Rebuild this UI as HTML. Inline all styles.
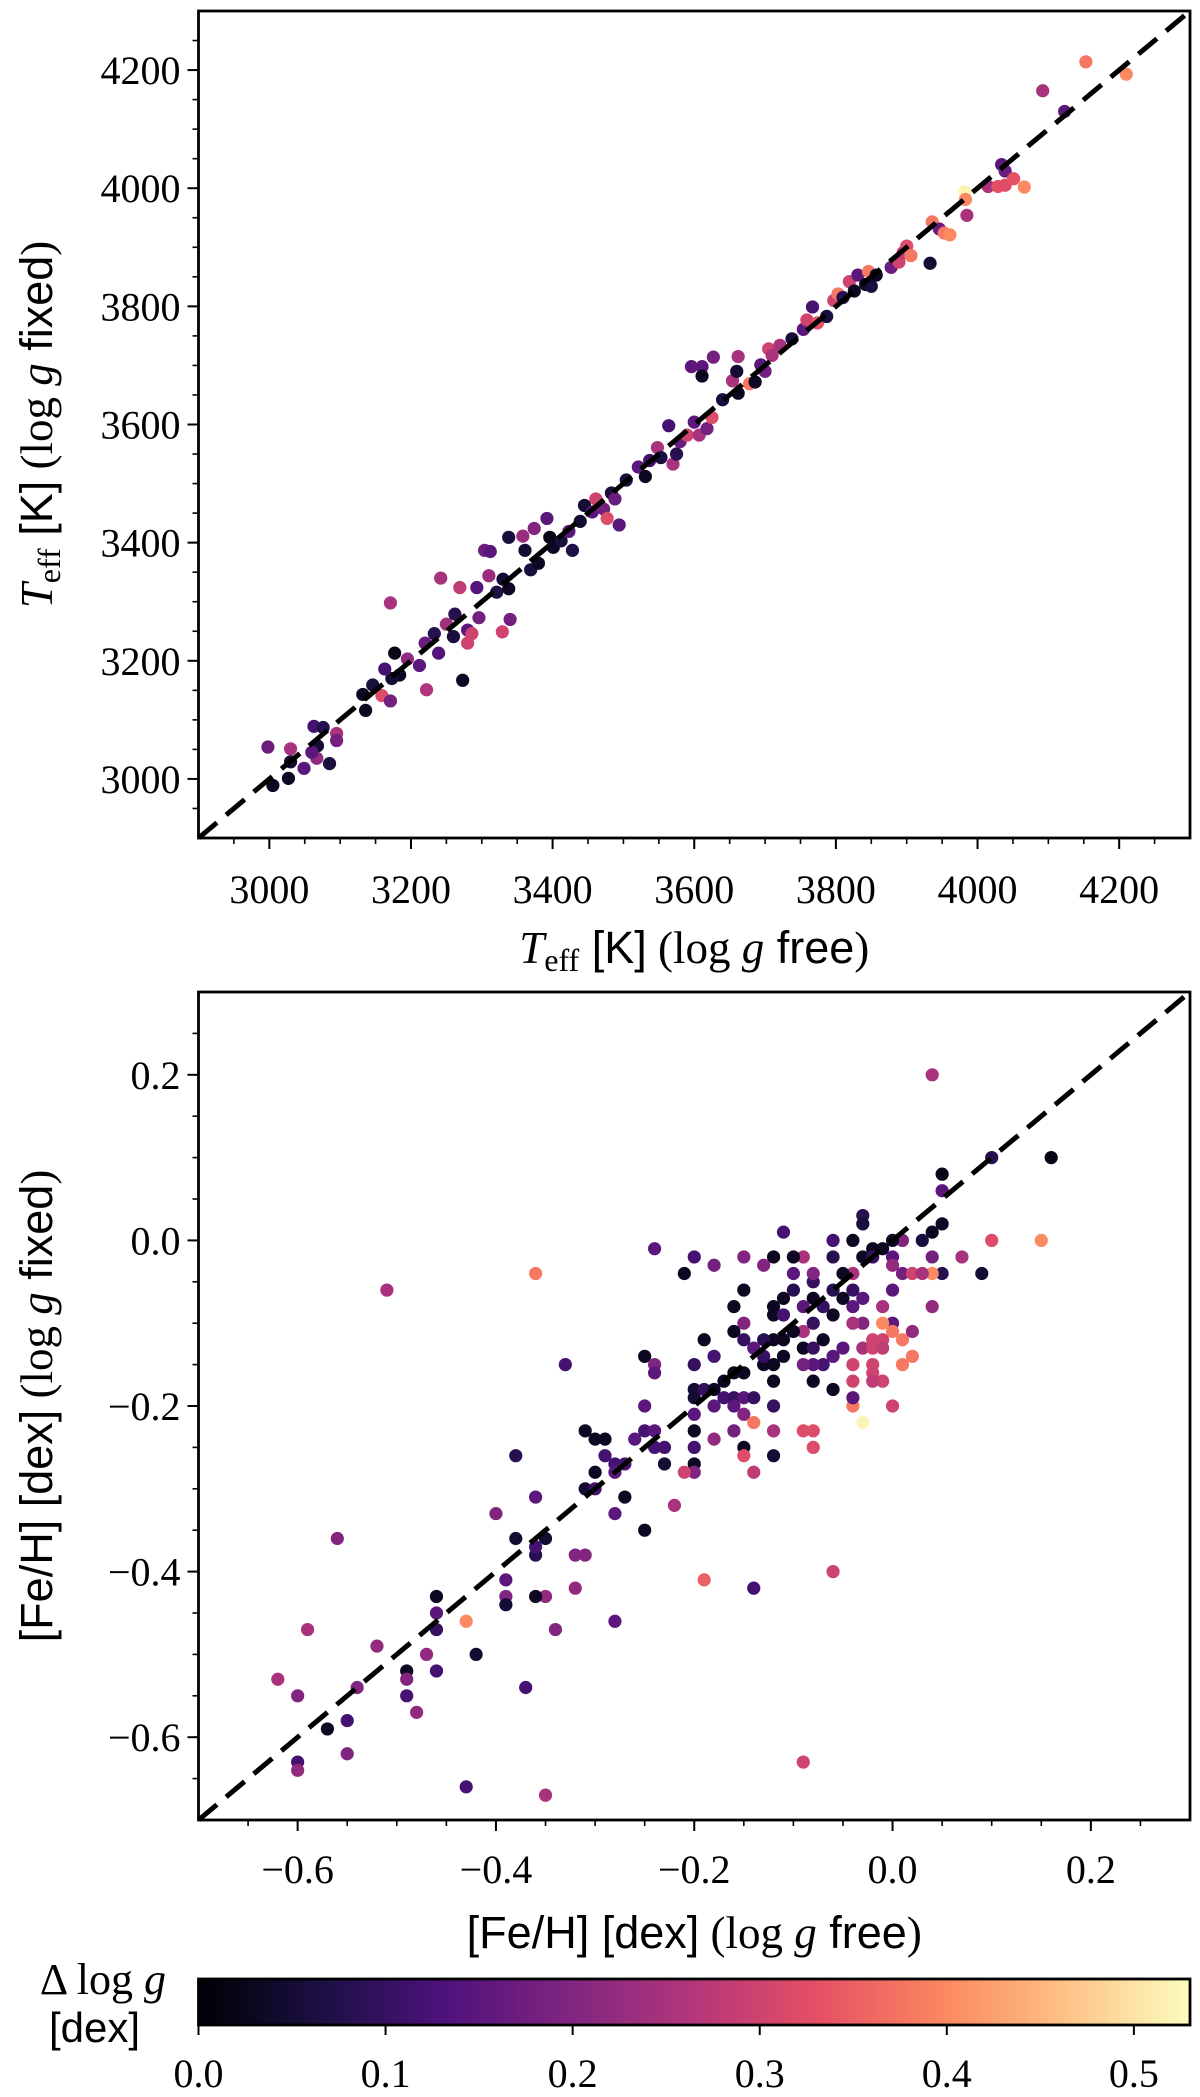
<!DOCTYPE html>
<html><head><meta charset="utf-8"><style>
html,body{margin:0;padding:0;background:#fff;}
svg{display:block;}
text{font-family:"Liberation Serif",serif;fill:#000;}
.sans{font-family:"Liberation Sans",sans-serif;}
</style></head><body>
<svg id="fig" width="1200" height="2097" viewBox="0 0 1200 2097" xmlns="http://www.w3.org/2000/svg">
<defs>
<linearGradient id="magma" x1="0" x2="1" y1="0" y2="0">
<stop offset="0" stop-color="rgb(0,0,4)"/>
<stop offset="0.125" stop-color="rgb(28,16,68)"/>
<stop offset="0.25" stop-color="rgb(79,18,123)"/>
<stop offset="0.375" stop-color="rgb(129,37,129)"/>
<stop offset="0.5" stop-color="rgb(181,54,122)"/>
<stop offset="0.625" stop-color="rgb(229,80,100)"/>
<stop offset="0.75" stop-color="rgb(251,135,97)"/>
<stop offset="0.875" stop-color="rgb(254,194,135)"/>
<stop offset="1" stop-color="rgb(252,253,191)"/>
</linearGradient>
</defs>
<g id="top"></g>
<g id="bot"></g>
<g id="cb"></g>
</svg>
<script>
// ---- Top panel data (Teff) ----
const teffFree = [2998,3030,3027,3005,3030,3049,3063,3076,3068,3067,3085,3095,3095,3060,3136,3132,3146,3159,3171,3171,3177,3184,3173,3163,3195,3212,3222,3220,3233,3242,3239,3250,3260,3269,3273,3262,3280,3286,3280,3296,3293,3304,3312,3310,3321,3329,3330,3338,3340,3338,3358,3361,3369,3380,3374,3392,3396,3401,3412,3423,3428,3439,3445,3456,3461,3472,3477,3483,3494,3488,3504,3521,3531,3537,3548,3553,3564,3570,3575,3580,3590,3600,3607,3618,3625,3596,3611,3611,3627,3640,3654,3662,3662,3660,3678,3686,3694,3700,3705,3710,3721,3738,3754,3759,3767,3774,3787,3797,3803,3810,3819,3826,3831,3842,3846,3850,3857,3878,3889,3895,3900,3906,3933,3936,3946,3953,3961,3982,3983,3985,4015,4029,4034,4039,4039,4051,4066,4092,4123,4153,4210];
const teffFixed = [3054,3051,3001,2989,3029,3018,3089,3087,3056,3035,3026,3077,3065,3045,3116,3143,3159,3141,3132,3298,3213,3176,3170,3186,3203,3192,3151,3230,3246,3340,3213,3262,3241,3324,3167,3279,3252,3246,3230,3273,3324,3387,3385,3344,3316,3249,3338,3409,3270,3322,3411,3387,3354,3365,3424,3441,3409,3392,3403,3419,3387,3436,3463,3452,3474,3457,3441,3484,3430,3474,3506,3528,3512,3539,3561,3544,3598,3533,3550,3571,3582,3604,3582,3593,3612,3698,3698,3682,3714,3642,3674,3653,3715,3690,3669,3672,3701,3690,3728,3717,3734,3745,3761,3777,3799,3772,3783,3810,3821,3815,3842,3826,3853,3837,3859,3834,3853,3866,3875,3891,3902,3886,3873,3943,3931,3924,3921,3994,3981,3954,4003,4003,4040,4029,4005,4016,4002,4165,4130,4214,4193];
const teffDlogg = [0.17,0.25,0.03,0.03,0.05,0.15,0.12,0.08,0.05,0.22,0.06,0.25,0.18,0.15,0.03,0.03,0.06,0.32,0.18,0.25,0.02,0.03,0.05,0.12,0.22,0.15,0.26,0.17,0.08,0.25,0.14,0.24,0.06,0.28,0.03,0.08,0.15,0.3,0.3,0.18,0.14,0.17,0.15,0.23,0.07,0.3,0.05,0.06,0.18,0.03,0.23,0.05,0.06,0.03,0.2,0.15,0.02,0.03,0.06,0.15,0.07,0.05,0.05,0.15,0.3,0.18,0.32,0.06,0.15,0.17,0.06,0.15,0.03,0.12,0.25,0.06,0.12,0.25,0.08,0.17,0.3,0.15,0.25,0.18,0.32,0.15,0.15,0.03,0.18,0.06,0.25,0.03,0.25,0.05,0.38,0.03,0.15,0.18,0.3,0.25,0.25,0.06,0.15,0.3,0.12,0.33,0.06,0.3,0.38,0.08,0.3,0.03,0.15,0.03,0.38,0.06,0.03,0.17,0.3,0.28,0.32,0.38,0.05,0.38,0.17,0.38,0.4,0.52,0.4,0.25,0.25,0.33,0.15,0.17,0.32,0.33,0.4,0.25,0.15,0.38,0.4];
const teffTicks = [3000,3200,3400,3600,3800,4000,4200];
const teffTickLabels = ["3000","3200","3400","3600","3800","4000","4200"];

// ---- Bottom panel data ([Fe/H]) ----
const fehFree = [0.04,0.16,0.10,0.05,0.05,0.05,0.04,0.10,0.15,0.09,0.05,0.04,0.07,0.04,0.03,0.01,0.00,-0.01,-0.02,-0.03,-0.02,0.00,0.00,0.01,0.02,0.03,0.04,0.00,-0.01,0.00,-0.01,0.00,0.01,0.02,0.02,0.01,-0.01,-0.02,-0.02,-0.03,-0.02,-0.01,-0.02,-0.01,-0.02,-0.04,0.00,-0.04,-0.03,-0.04,-0.04,-0.03,-0.03,-0.04,-0.04,-0.05,-0.04,-0.04,-0.05,-0.06,-0.06,-0.04,-0.03,-0.03,-0.06,-0.06,-0.07,-0.08,-0.08,-0.08,-0.09,-0.10,-0.10,-0.10,-0.11,-0.12,-0.09,-0.08,-0.09,-0.10,-0.11,-0.12,-0.13,-0.12,-0.11,-0.09,-0.08,-0.07,-0.07,-0.06,-0.05,-0.08,-0.09,-0.08,-0.06,-0.11,-0.12,-0.13,-0.12,-0.13,-0.14,-0.15,-0.15,-0.16,-0.16,-0.15,-0.13,-0.11,-0.12,-0.15,-0.18,-0.20,-0.21,-0.24,-0.25,-0.24,-0.24,-0.20,-0.20,-0.19,-0.19,-0.18,-0.18,-0.17,-0.16,-0.15,-0.17,-0.18,-0.16,-0.15,-0.14,-0.16,-0.16,-0.15,-0.12,-0.14,-0.12,-0.20,-0.20,-0.20,-0.20,-0.20,-0.20,-0.21,-0.18,-0.15,-0.15,-0.14,-0.12,-0.09,-0.08,-0.08,-0.22,-0.25,-0.25,-0.24,-0.24,-0.23,-0.23,-0.26,-0.27,-0.27,-0.28,-0.28,-0.29,-0.29,-0.30,-0.31,-0.31,-0.30,-0.30,-0.28,-0.25,-0.31,-0.32,-0.32,-0.33,-0.35,-0.35,-0.36,-0.36,-0.36,-0.36,-0.38,-0.38,-0.36,-0.39,-0.39,-0.39,-0.40,-0.34,-0.28,-0.37,-0.42,-0.43,-0.43,-0.35,-0.46,-0.46,-0.46,-0.46,-0.47,-0.48,-0.49,-0.49,-0.49,-0.51,-0.52,-0.54,-0.55,-0.55,-0.56,-0.57,-0.59,-0.60,-0.60,-0.60,-0.62,-0.14,-0.19,-0.06,-0.09];
const fehFixed = [0.20,0.10,0.10,0.08,0.06,0.02,0.01,0.00,0.00,-0.04,-0.04,-0.04,-0.02,-0.02,0.00,0.00,0.00,-0.01,-0.01,-0.02,-0.02,-0.02,-0.03,-0.04,-0.04,-0.04,-0.08,-0.06,-0.08,-0.10,-0.10,-0.11,-0.12,-0.11,-0.14,-0.15,-0.12,-0.12,-0.15,-0.13,-0.13,-0.13,-0.16,-0.17,-0.17,-0.17,-0.20,-0.20,-0.22,-0.19,-0.15,-0.07,-0.10,-0.10,-0.08,-0.07,-0.06,-0.04,-0.04,-0.02,0.00,0.00,0.03,0.02,-0.06,-0.09,-0.08,-0.07,-0.05,-0.04,-0.02,-0.02,-0.04,-0.06,-0.07,-0.08,-0.08,-0.10,-0.11,-0.11,-0.12,-0.12,-0.12,-0.09,-0.09,-0.13,-0.13,-0.12,-0.15,-0.14,-0.13,-0.15,-0.15,-0.17,-0.18,-0.14,-0.15,-0.15,-0.17,-0.14,-0.13,-0.12,-0.10,-0.11,-0.08,-0.06,-0.03,0.01,-0.02,-0.02,-0.03,-0.02,-0.04,-0.01,-0.14,-0.15,-0.16,-0.15,-0.18,-0.18,-0.12,-0.14,-0.18,-0.17,-0.16,-0.16,-0.19,-0.20,-0.19,-0.19,-0.19,-0.20,-0.23,-0.21,-0.20,-0.22,-0.23,-0.19,-0.21,-0.23,-0.25,-0.27,-0.28,-0.28,-0.24,-0.25,-0.26,-0.28,-0.26,-0.23,-0.23,-0.25,-0.32,-0.20,-0.23,-0.23,-0.25,-0.25,-0.27,-0.24,-0.27,-0.31,-0.27,-0.28,-0.26,-0.24,-0.24,-0.23,-0.30,-0.28,-0.30,-0.33,-0.35,-0.38,-0.38,-0.42,-0.15,-0.36,-0.43,-0.43,-0.31,-0.38,-0.37,-0.36,-0.26,-0.04,-0.41,-0.43,-0.44,-0.33,-0.47,-0.46,-0.54,-0.50,-0.46,-0.66,-0.67,-0.43,-0.45,-0.47,-0.52,-0.50,-0.57,-0.52,-0.53,-0.55,-0.06,-0.49,-0.54,-0.58,-0.62,-0.36,-0.59,-0.47,-0.55,-0.63,-0.64,-0.53,-0.42,-0.41,-0.40,-0.63];
const fehDlogg = [0.25,0.02,0.08,0.02,0.15,0.03,0.03,0.32,0.4,0.05,0.08,0.4,0.25,0.18,0.06,0.2,0.03,0.03,0.03,0.03,0.1,0.15,0.22,0.18,0.3,0.25,0.22,0.15,0.25,0.15,0.4,0.38,0.38,0.22,0.38,0.38,0.3,0.3,0.3,0.25,0.3,0.28,0.3,0.3,0.28,0.3,0.3,0.38,0.52,0.15,0.3,0.15,0.2,0.25,0.15,0.03,0.1,0.25,0.03,0.08,0.12,0.03,0.08,0.06,0.08,0.03,0.1,0.03,0.1,0.2,0.25,0.03,0.15,0.08,0.03,0.03,0.15,0.1,0.25,0.03,0.03,0.03,0.08,0.03,0.12,0.03,0.1,0.03,0.12,0.15,0.15,0.15,0.18,0.03,0.03,0.03,0.03,0.03,0.03,0.1,0.15,0.1,0.2,0.03,0.03,0.03,0.2,0.12,0.03,0.2,0.18,0.12,0.03,0.15,0.03,0.2,0.15,0.1,0.05,0.1,0.03,0.12,0.03,0.03,0.03,0.03,0.12,0.15,0.1,0.15,0.1,0.15,0.18,0.2,0.1,0.38,0.25,0.05,0.15,0.03,0.12,0.03,0.2,0.3,0.22,0.03,0.32,0.28,0.05,0.32,0.32,0.32,0.25,0.15,0.12,0.15,0.12,0.12,0.05,0.15,0.12,0.03,0.12,0.15,0.12,0.03,0.03,0.03,0.05,0.03,0.12,0.15,0.03,0.2,0.2,0.22,0.12,0.05,0.22,0.03,0.15,0.08,0.12,0.05,0.08,0.38,0.15,0.2,0.05,0.2,0.2,0.15,0.12,0.05,0.4,0.12,0.25,0.03,0.15,0.1,0.12,0.22,0.22,0.03,0.2,0.12,0.25,0.22,0.2,0.12,0.2,0.2,0.03,0.25,0.2,0.12,0.22,0.25,0.12,0.35,0.3,0.3];
const fehTicks = [-0.6,-0.4,-0.2,0.0,0.2];
const fehTickLabels = ["\u22120.6","\u22120.4","\u22120.2","0.0","0.2"];

// ---- Colorbar ----
const cbTicks = [0.0,0.1,0.2,0.3,0.4,0.5];
const cbTickLabels = ["0.0","0.1","0.2","0.3","0.4","0.5"];
const cbMax = 0.53;

const NS = "http://www.w3.org/2000/svg";
function mk(parent, tag, attrs){ const e=document.createElementNS(NS,tag); for(const k in attrs) e.setAttribute(k,attrs[k]); parent.appendChild(e); return e; }

const magmaStops = [[0,0,4],[28,16,68],[79,18,123],[129,37,129],[181,54,122],[229,80,100],[251,135,97],[254,194,135],[252,253,191]];
function magma(v){
  let t=Math.max(0,Math.min(1,v/cbMax))*(magmaStops.length-1);
  const i=Math.min(Math.floor(t),magmaStops.length-2), f=t-i;
  const a=magmaStops[i], b=magmaStops[i+1];
  return `rgb(${Math.round(a[0]+(b[0]-a[0])*f)},${Math.round(a[1]+(b[1]-a[1])*f)},${Math.round(a[2]+(b[2]-a[2])*f)})`;
}

function panel(g, box, dom, xs, ys, cs, ticks, labels, minorStep, xlabelHTML, ylabelHTML, labelY, xlabY, ylabX, tickFont){
  const sx=v=>box.l+(v-dom[0])/(dom[1]-dom[0])*(box.r-box.l);
  const sy=v=>box.b-(v-dom[0])/(dom[1]-dom[0])*(box.b-box.t);
  const pts=mk(g,'g',{});
  
  
  for(let i=0;i<xs.length;i++){
    const c=mk(pts,'circle',{cx:sx(xs[i]),cy:sy(ys[i]),r:6.6,fill:magma(cs[i])});
    
    
  }
  const ln=mk(g,'line',{x1:sx(dom[0]),y1:sy(dom[0]),x2:sx(dom[1]),y2:sy(dom[1]),stroke:'#000','stroke-width':5,'stroke-dasharray':'24 12'});
  
  
  const fr=mk(g,'rect',{x:box.l,y:box.t,width:box.r-box.l,height:box.b-box.t,fill:'none',stroke:'#000','stroke-width':2.8});
  
  
  const n=Math.round((dom[1]-dom[0])/minorStep);
  for(let k=1;k<n;k++){
    const v=dom[0]+k*minorStep;
    mk(g,'line',{x1:sx(v),x2:sx(v),y1:box.b,y2:box.b+6,stroke:'#000','stroke-width':1.6});
    mk(g,'line',{x1:box.l,x2:box.l-6,y1:sy(v),y2:sy(v),stroke:'#000','stroke-width':1.6});
  }
  ticks.forEach((v,i)=>{
    mk(g,'line',{x1:sx(v),x2:sx(v),y1:box.b,y2:box.b+11,stroke:'#000','stroke-width':2});
    mk(g,'line',{x1:box.l,x2:box.l-11,y1:sy(v),y2:sy(v),stroke:'#000','stroke-width':2});
    const tx=mk(g,'text',{x:sx(v),y:labelY,'text-anchor':'middle','font-size':tickFont});
    tx.textContent=labels[i];
    
    
    const ty=mk(g,'text',{x:box.l-18,y:sy(v)+14,'text-anchor':'end','font-size':tickFont});
    ty.textContent=labels[i];
    
    
  });
  const xl=mk(g,'text',{x:(box.l+box.r)/2,y:xlabY,'text-anchor':'middle','font-size':45});
  xl.innerHTML=xlabelHTML;
  
  
  const cy=(box.t+box.b)/2;
  const yl=mk(g,'text',{x:ylabX,y:cy,'text-anchor':'middle','font-size':45,transform:`rotate(-90 ${ylabX} ${cy})`});
  yl.innerHTML=ylabelHTML;
  
  
}

const teffX='<tspan font-style="italic">T</tspan><tspan font-size="32" dy="8">eff</tspan><tspan dy="-8" class="sans"> [K]</tspan> (log <tspan font-style="italic">g</tspan><tspan class="sans"> free</tspan>)';
const teffY='<tspan font-style="italic">T</tspan><tspan font-size="32" dy="8">eff</tspan><tspan dy="-8" class="sans"> [K]</tspan> (log <tspan font-style="italic">g</tspan><tspan class="sans"> fixed</tspan>)';
panel(document.getElementById('top'),{l:198.5,r:1190,t:11,b:838},[2900,4300],teffFree,teffFixed,teffDlogg,teffTicks,teffTickLabels,50,teffX,teffY,903,963,52,40);

const fehX='<tspan class="sans">[Fe/H] [dex]</tspan> (log <tspan font-style="italic">g</tspan><tspan class="sans"> free</tspan>)';
const fehY='<tspan class="sans">[Fe/H] [dex]</tspan> (log <tspan font-style="italic">g</tspan><tspan class="sans"> fixed</tspan>)';
panel(document.getElementById('bot'),{l:198.5,r:1190,t:992,b:1820},[-0.7,0.3],fehFree,fehFixed,fehDlogg,fehTicks,fehTickLabels,0.05,fehX,fehY,1883,1948,52,40);

(function(){
  const g=document.getElementById('cb');
  const l=198.5,r=1190,t=1979,b=2025;
  const sx=v=>l+v/cbMax*(r-l);
  const rc=mk(g,'rect',{x:l,y:t,width:r-l,height:b-t,fill:'url(#magma)',stroke:'#000','stroke-width':2.8});
  
  
  cbTicks.forEach((v,i)=>{
    mk(g,'line',{x1:sx(v),x2:sx(v),y1:b,y2:b+10,stroke:'#000','stroke-width':2});
    const tx=mk(g,'text',{x:sx(v),y:2087,'text-anchor':'middle','font-size':40});
    tx.textContent=cbTickLabels[i];
    
    
  });
  const t1=mk(g,'text',{x:166,y:1994,'text-anchor':'end','font-size':44});
  t1.innerHTML='Δ log <tspan font-style="italic">g</tspan>';
  
  
  const t2=mk(g,'text',{x:140,y:2042,'text-anchor':'end','font-size':42,'class':'sans'});
  t2.textContent='[dex]';
  
  
})();
</script>
</body></html>
